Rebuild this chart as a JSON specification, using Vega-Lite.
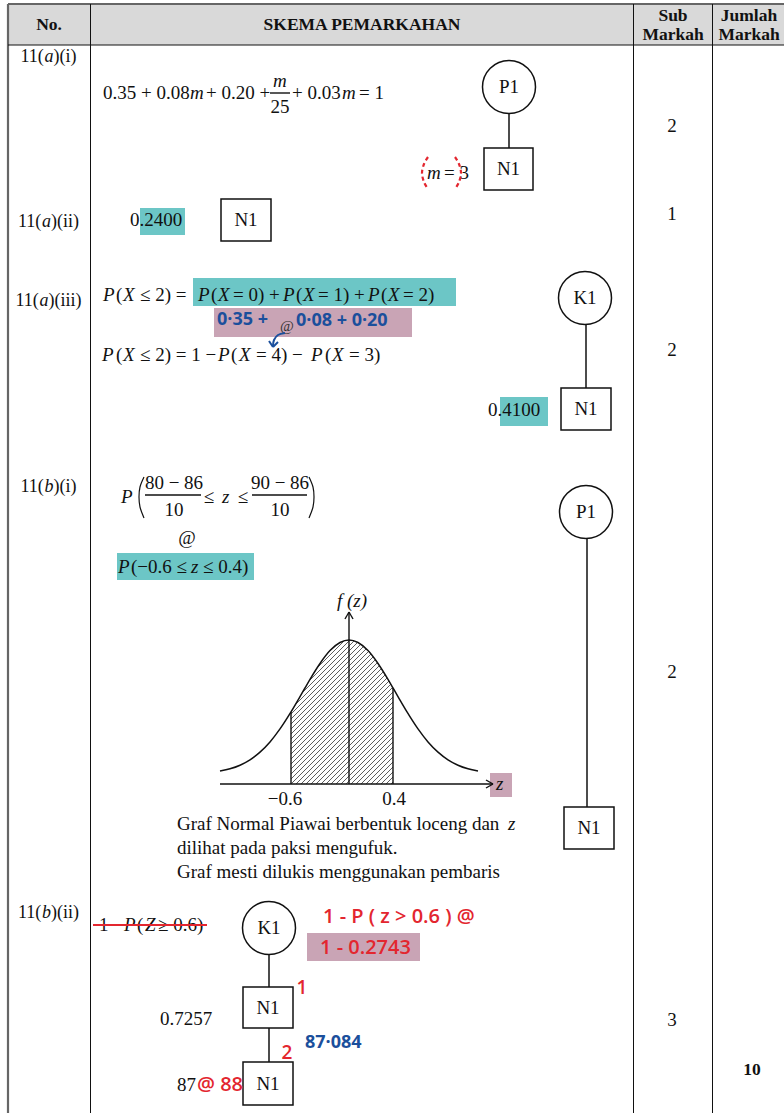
{
 "$schema": "https://vega.github.io/schema/vega-lite/v6.json",
 "width": 784, "height": 1113, "padding": 0, "autosize": {"type": "none"},
 "background": "white",
 "config": {"view": {"stroke": null}},
 "datasets": {
  "header": [{"x": 8, "y": 4, "x2": 784, "y2": 45}],
  "teal": [
   {"x": 140, "y": 208, "x2": 185, "y2": 235},
   {"x": 193, "y": 278, "x2": 456, "y2": 306},
   {"x": 500, "y": 397, "x2": 548, "y2": 426},
   {"x": 117, "y": 553, "x2": 254, "y2": 580}
  ],
  "mauve": [
   {"x": 214, "y": 308, "x2": 412, "y2": 337},
   {"x": 490, "y": 773, "x2": 512, "y2": 797},
   {"x": 307, "y": 933, "x2": 420, "y2": 961}
  ],
  "hatch": [
   {"x": 291, "y": 644, "x2": 297, "y2": 638},
   {"x": 291, "y": 649, "x2": 302, "y2": 638},
   {"x": 291, "y": 654, "x2": 307, "y2": 638},
   {"x": 291, "y": 659, "x2": 312, "y2": 638},
   {"x": 291, "y": 664, "x2": 317, "y2": 638},
   {"x": 291, "y": 669, "x2": 322, "y2": 638},
   {"x": 291, "y": 674, "x2": 327, "y2": 638},
   {"x": 291, "y": 679, "x2": 332, "y2": 638},
   {"x": 291, "y": 684, "x2": 337, "y2": 638},
   {"x": 291, "y": 689, "x2": 342, "y2": 638},
   {"x": 291, "y": 694, "x2": 347, "y2": 638},
   {"x": 291, "y": 699, "x2": 352, "y2": 638},
   {"x": 291, "y": 704, "x2": 357, "y2": 638},
   {"x": 291, "y": 709, "x2": 362, "y2": 638},
   {"x": 291, "y": 714, "x2": 367, "y2": 638},
   {"x": 291, "y": 719, "x2": 372, "y2": 638},
   {"x": 291, "y": 724, "x2": 377, "y2": 638},
   {"x": 291, "y": 729, "x2": 382, "y2": 638},
   {"x": 291, "y": 734, "x2": 387, "y2": 638},
   {"x": 291, "y": 739, "x2": 392, "y2": 638},
   {"x": 291, "y": 744, "x2": 393, "y2": 642},
   {"x": 291, "y": 749, "x2": 393, "y2": 647},
   {"x": 291, "y": 754, "x2": 393, "y2": 652},
   {"x": 291, "y": 759, "x2": 393, "y2": 657},
   {"x": 291, "y": 764, "x2": 393, "y2": 662},
   {"x": 291, "y": 769, "x2": 393, "y2": 667},
   {"x": 291, "y": 774, "x2": 393, "y2": 672},
   {"x": 291, "y": 779, "x2": 393, "y2": 677},
   {"x": 291, "y": 784, "x2": 393, "y2": 682},
   {"x": 296, "y": 784, "x2": 393, "y2": 687},
   {"x": 301, "y": 784, "x2": 393, "y2": 692},
   {"x": 306, "y": 784, "x2": 393, "y2": 697},
   {"x": 311, "y": 784, "x2": 393, "y2": 702},
   {"x": 316, "y": 784, "x2": 393, "y2": 707},
   {"x": 321, "y": 784, "x2": 393, "y2": 712},
   {"x": 326, "y": 784, "x2": 393, "y2": 717},
   {"x": 331, "y": 784, "x2": 393, "y2": 722},
   {"x": 336, "y": 784, "x2": 393, "y2": 727},
   {"x": 341, "y": 784, "x2": 393, "y2": 732},
   {"x": 346, "y": 784, "x2": 393, "y2": 737},
   {"x": 351, "y": 784, "x2": 393, "y2": 742},
   {"x": 356, "y": 784, "x2": 393, "y2": 747},
   {"x": 361, "y": 784, "x2": 393, "y2": 752},
   {"x": 366, "y": 784, "x2": 393, "y2": 757},
   {"x": 371, "y": 784, "x2": 393, "y2": 762},
   {"x": 376, "y": 784, "x2": 393, "y2": 767},
   {"x": 381, "y": 784, "x2": 393, "y2": 772},
   {"x": 386, "y": 784, "x2": 393, "y2": 777},
   {"x": 391, "y": 784, "x2": 393, "y2": 782}
  ],
  "curve": [
   {"x": 220, "y": 771.0}, {"x": 230, "y": 768.8}, {"x": 240, "y": 765.2}, {"x": 250, "y": 759.8},
   {"x": 260, "y": 752.1}, {"x": 270, "y": 741.9}, {"x": 280, "y": 728.9}, {"x": 291, "y": 711.9},
   {"x": 300, "y": 696.6}, {"x": 305, "y": 688.0}, {"x": 310, "y": 679.4}, {"x": 320, "y": 663.5},
   {"x": 330, "y": 650.6}, {"x": 340, "y": 642.5}, {"x": 349, "y": 640.0}, {"x": 358, "y": 642.5},
   {"x": 368, "y": 650.6}, {"x": 378, "y": 663.5}, {"x": 388, "y": 679.4}, {"x": 393, "y": 688.0},
   {"x": 398, "y": 696.6}, {"x": 407, "y": 711.9}, {"x": 418, "y": 728.9}, {"x": 428, "y": 741.9},
   {"x": 438, "y": 752.1}, {"x": 448, "y": 759.8}, {"x": 458, "y": 765.2}, {"x": 468, "y": 768.8},
   {"x": 478, "y": 771.0}
  ],
  "glines": [
   {"x": 220, "y": 784, "x2": 493, "y2": 784},
   {"x": 486, "y": 780, "x2": 493, "y2": 784},
   {"x": 486, "y": 788, "x2": 493, "y2": 784},
   {"x": 349, "y": 784, "x2": 349, "y2": 612},
   {"x": 345, "y": 619, "x2": 349, "y2": 612},
   {"x": 353, "y": 619, "x2": 349, "y2": 612},
   {"x": 291, "y": 784, "x2": 291, "y2": 711.9},
   {"x": 393, "y": 784, "x2": 393, "y2": 688},
   {"x": 270, "y": 93, "x2": 290, "y2": 93},
   {"x": 145, "y": 495, "x2": 201, "y2": 495},
   {"x": 252, "y": 495, "x2": 307, "y2": 495}
  ],
  "bigparen": [
   {"g": "L", "o": 1, "x": 144, "y": 477}, {"g": "L", "o": 2, "x": 140, "y": 487},
   {"g": "L", "o": 3, "x": 139, "y": 497}, {"g": "L", "o": 4, "x": 140, "y": 507},
   {"g": "L", "o": 5, "x": 144, "y": 518},
   {"g": "R", "o": 1, "x": 309, "y": 477}, {"g": "R", "o": 2, "x": 313, "y": 487},
   {"g": "R", "o": 3, "x": 314, "y": 497}, {"g": "R", "o": 4, "x": 313, "y": 507},
   {"g": "R", "o": 5, "x": 309, "y": 518}
  ],
  "grid_thick": [
   {"x": 8, "y": 4, "x2": 784, "y2": 4},
   {"x": 8, "y": 4, "x2": 8, "y2": 1113}
  ],
  "grid": [
   {"x": 8, "y": 45, "x2": 784, "y2": 45},
   {"x": 90.5, "y": 4, "x2": 90.5, "y2": 1113},
   {"x": 633.5, "y": 4, "x2": 633.5, "y2": 1113},
   {"x": 712.5, "y": 4, "x2": 712.5, "y2": 1113}
  ],
  "conn": [
   {"x": 509, "y": 113, "x2": 509, "y2": 148},
   {"x": 586, "y": 324, "x2": 586, "y2": 388},
   {"x": 587, "y": 538, "x2": 587, "y2": 807},
   {"x": 269, "y": 954, "x2": 269, "y2": 987},
   {"x": 269, "y": 1028, "x2": 269, "y2": 1062}
  ],
  "boxes": [
   {"x": 484, "y": 148, "x2": 533, "y2": 190},
   {"x": 221, "y": 199, "x2": 271, "y2": 241},
   {"x": 561, "y": 388, "x2": 611, "y2": 430},
   {"x": 564, "y": 807, "x2": 614, "y2": 849},
   {"x": 243, "y": 987, "x2": 293, "y2": 1028},
   {"x": 243, "y": 1062, "x2": 293, "y2": 1105}
  ],
  "circles": [
   {"x": 509, "y": 87}, {"x": 585, "y": 298}, {"x": 586, "y": 512}, {"x": 269, "y": 928}
  ],
  "th": [
   {"x": 49, "y": 25, "t": "No."},
   {"x": 362, "y": 25, "t": "SKEMA PEMARKAHAN"},
   {"x": 673, "y": 16, "t": "Sub"},
   {"x": 673, "y": 35, "t": "Markah"},
   {"x": 749, "y": 16, "t": "Jumlah"},
   {"x": 749, "y": 35, "t": "Markah"},
   {"x": 752, "y": 1070, "t": "10"}
  ],
  "lab_n": [
   {"x": 20.5, "y": 57, "t": "11("}, {"x": 53.5, "y": 57, "t": ")(i)"},
   {"x": 18, "y": 222, "t": "11("}, {"x": 51, "y": 222, "t": ")(ii)"},
   {"x": 15.5, "y": 301, "t": "11("}, {"x": 48.5, "y": 301, "t": ")(iii)"},
   {"x": 20.5, "y": 487, "t": "11("}, {"x": 53.5, "y": 487, "t": ")(i)"},
   {"x": 18, "y": 913, "t": "11("}, {"x": 51, "y": 913, "t": ")(ii)"}
  ],
  "lab_i": [
   {"x": 44.5, "y": 57, "t": "a"},
   {"x": 42, "y": 222, "t": "a"},
   {"x": 39.5, "y": 301, "t": "a"},
   {"x": 44.5, "y": 487, "t": "b"},
   {"x": 42, "y": 913, "t": "b"}
  ],
  "tc": [
   {"x": 509, "y": 87, "t": "P1"},
   {"x": 508.5, "y": 169, "t": "N1"},
   {"x": 672, "y": 126, "t": "2"},
   {"x": 246, "y": 220, "t": "N1"},
   {"x": 672, "y": 214, "t": "1"},
   {"x": 585, "y": 298, "t": "K1"},
   {"x": 586, "y": 409, "t": "N1"},
   {"x": 672, "y": 350, "t": "2"},
   {"x": 586, "y": 512, "t": "P1"},
   {"x": 589, "y": 828, "t": "N1"},
   {"x": 672, "y": 672, "t": "2"},
   {"x": 269, "y": 928, "t": "K1"},
   {"x": 268, "y": 1008, "t": "N1"},
   {"x": 268, "y": 1084, "t": "N1"},
   {"x": 672, "y": 1020, "t": "3"},
   {"x": 280, "y": 107, "t": "25"},
   {"x": 174, "y": 483, "t": "80 − 86"},
   {"x": 174, "y": 510, "t": "10"},
   {"x": 280, "y": 483, "t": "90 − 86"},
   {"x": 280, "y": 510, "t": "10"},
   {"x": 209, "y": 497, "t": "≤"},
   {"x": 243, "y": 497, "t": "≤"},
   {"x": 187, "y": 538, "t": "@"},
   {"x": 285, "y": 799, "t": "−0.6"},
   {"x": 394, "y": 799, "t": "0.4"}
  ],
  "tsmall": [
   {"x": 287, "y": 326, "t": "@"}
  ],
  "tn": [
   {"x": 103, "y": 93, "t": "0.35 + 0.08"},
   {"x": 206, "y": 93, "t": "+ 0.20 +"},
   {"x": 292, "y": 93, "t": "+ 0.03"},
   {"x": 359, "y": 93, "t": "= 1"},
   {"x": 444, "y": 173, "t": "= 3"},
   {"x": 130, "y": 220, "t": "0.2400"},
   {"x": 116, "y": 295, "t": "("},
   {"x": 140, "y": 295, "t": "≤ 2) ="},
   {"x": 211, "y": 295, "t": "("},
   {"x": 233, "y": 295, "t": "= 0) +"},
   {"x": 296, "y": 295, "t": "("},
   {"x": 318, "y": 295, "t": "= 1) +"},
   {"x": 381, "y": 295, "t": "("},
   {"x": 403, "y": 295, "t": "= 2)"},
   {"x": 116, "y": 355, "t": "("},
   {"x": 140, "y": 355, "t": "≤ 2) = 1 −"},
   {"x": 231, "y": 355, "t": "("},
   {"x": 256, "y": 355, "t": "= 4) −"},
   {"x": 325, "y": 355, "t": "("},
   {"x": 349, "y": 355, "t": "= 3)"},
   {"x": 488, "y": 410, "t": "0.4100"},
   {"x": 131, "y": 567, "t": "(−0.6 ≤"},
   {"x": 203, "y": 567, "t": "≤ 0.4)"},
   {"x": 177, "y": 824, "t": "Graf Normal Piawai berbentuk loceng dan"},
   {"x": 177, "y": 848, "t": "dilihat pada paksi mengufuk."},
   {"x": 177, "y": 872, "t": "Graf mesti dilukis menggunakan pembaris"},
   {"x": 99, "y": 925, "t": "1 −"},
   {"x": 137, "y": 925, "t": "("},
   {"x": 158, "y": 925, "t": "≥ 0.6)"},
   {"x": 160, "y": 1019, "t": "0.7257"},
   {"x": 177, "y": 1085, "t": "87"}
  ],
  "ti": [
   {"x": 190, "y": 93, "t": "m"},
   {"x": 273, "y": 81, "t": "m"},
   {"x": 342, "y": 93, "t": "m"},
   {"x": 427, "y": 173, "t": "m"},
   {"x": 103, "y": 295, "t": "P"}, {"x": 123, "y": 295, "t": "X"},
   {"x": 198, "y": 295, "t": "P"}, {"x": 218, "y": 295, "t": "X"},
   {"x": 283, "y": 295, "t": "P"}, {"x": 303, "y": 295, "t": "X"},
   {"x": 368, "y": 295, "t": "P"}, {"x": 388, "y": 295, "t": "X"},
   {"x": 102, "y": 355, "t": "P"}, {"x": 123, "y": 355, "t": "X"},
   {"x": 218, "y": 355, "t": "P"}, {"x": 239, "y": 355, "t": "X"},
   {"x": 311, "y": 355, "t": "P"}, {"x": 332, "y": 355, "t": "X"},
   {"x": 121, "y": 497, "t": "P"},
   {"x": 222, "y": 497, "t": "z"},
   {"x": 118, "y": 567, "t": "P"},
   {"x": 191, "y": 567, "t": "z"},
   {"x": 337, "y": 601, "t": "f (z)"},
   {"x": 496, "y": 784, "t": "z"},
   {"x": 508, "y": 824, "t": "z"},
   {"x": 124, "y": 925, "t": "P"},
   {"x": 145, "y": 925, "t": "Z"}
  ],
  "red": [
   {"x": 323, "y": 917, "t": "1 - P ( z > 0.6 )  @"},
   {"x": 320, "y": 948, "t": "1 - 0.2743"},
   {"x": 197, "y": 1085, "t": "@ 88"}
  ],
  "redc": [
   {"x": 302, "y": 988, "t": "1"},
   {"x": 287, "y": 1053, "t": "2"}
  ],
  "blue": [
   {"x": 217, "y": 320, "t": "0·35 +"},
   {"x": 296, "y": 321, "t": "0·08  + 0·20"},
   {"x": 305, "y": 1043, "t": "87·084"}
  ],
  "strike": [{"x": 93, "y": 925, "x2": 207, "y2": 925}],
  "paren": [
   {"g": "L", "o": 1, "x": 428, "y": 157}, {"g": "L", "o": 2, "x": 424, "y": 164},
   {"g": "L", "o": 3, "x": 422, "y": 173}, {"g": "L", "o": 4, "x": 424, "y": 182},
   {"g": "L", "o": 5, "x": 428, "y": 189},
   {"g": "R", "o": 1, "x": 455, "y": 157}, {"g": "R", "o": 2, "x": 459, "y": 164},
   {"g": "R", "o": 3, "x": 461, "y": 173}, {"g": "R", "o": 4, "x": 459, "y": 182},
   {"g": "R", "o": 5, "x": 455, "y": 189}
  ],
  "barrow": [
   {"o": 1, "x": 285, "y": 333}, {"o": 2, "x": 278, "y": 335},
   {"o": 3, "x": 274, "y": 340}, {"o": 4, "x": 273, "y": 346}
  ],
  "barrowhead": [
   {"x": 269, "y": 341, "x2": 273, "y2": 347},
   {"x": 278, "y": 342, "x2": 273, "y2": 347}
  ]
 },
 "encoding": {
  "x": {"field": "x", "type": "quantitative", "scale": {"domain": [0, 784], "nice": false, "zero": false}, "axis": null},
  "y": {"field": "y", "type": "quantitative", "scale": {"domain": [0, 1113], "nice": false, "zero": false, "reverse": true}, "axis": null}
 },
 "layer": [
  {"data": {"name": "header"}, "mark": {"type": "rect", "color": "#d9d9d9"}, "encoding": {"x2": {"field": "x2"}, "y2": {"field": "y2"}}},
  {"data": {"name": "teal"}, "mark": {"type": "rect", "color": "#6cc6c6"}, "encoding": {"x2": {"field": "x2"}, "y2": {"field": "y2"}}},
  {"data": {"name": "mauve"}, "mark": {"type": "rect", "color": "#c9a4b5"}, "encoding": {"x2": {"field": "x2"}, "y2": {"field": "y2"}}},
  {"data": {"name": "hatch"}, "mark": {"type": "rule", "color": "#333", "strokeWidth": 0.8}, "encoding": {"x2": {"field": "x2"}, "y2": {"field": "y2"}}},
  {"data": {"name": "curve"}, "transform": [{"filter": "datum.x >= 291 && datum.x <= 393"}], "mark": {"type": "area", "color": "white", "interpolate": "monotone"}, "encoding": {"y2": {"datum": 636}}},
  {"data": {"name": "curve"}, "mark": {"type": "line", "color": "#111", "strokeWidth": 1.5, "interpolate": "monotone"}, "encoding": {}},
  {"data": {"name": "glines"}, "mark": {"type": "rule", "color": "#111", "strokeWidth": 1.4}, "encoding": {"x2": {"field": "x2"}, "y2": {"field": "y2"}}},
  {"data": {"name": "bigparen"}, "mark": {"type": "line", "color": "#111", "strokeWidth": 1.2, "interpolate": "cardinal"}, "encoding": {"detail": {"field": "g"}, "order": {"field": "o"}}},
  {"data": {"name": "grid_thick"}, "mark": {"type": "rule", "color": "#666", "strokeWidth": 2.2}, "encoding": {"x2": {"field": "x2"}, "y2": {"field": "y2"}}},
  {"data": {"name": "grid"}, "mark": {"type": "rule", "color": "#111", "strokeWidth": 1}, "encoding": {"x2": {"field": "x2"}, "y2": {"field": "y2"}}},
  {"data": {"name": "conn"}, "mark": {"type": "rule", "color": "#111", "strokeWidth": 1.5}, "encoding": {"x2": {"field": "x2"}, "y2": {"field": "y2"}}},
  {"data": {"name": "boxes"}, "mark": {"type": "rect", "fill": "white", "stroke": "#111", "strokeWidth": 1.5}, "encoding": {"x2": {"field": "x2"}, "y2": {"field": "y2"}}},
  {"data": {"name": "circles"}, "mark": {"type": "point", "shape": "circle", "filled": false, "size": 2809, "color": "#111", "strokeWidth": 1.5, "opacity": 1}, "encoding": {}},
  {"data": {"name": "th"}, "mark": {"type": "text", "font": "Liberation Serif", "fontSize": 17.5, "fontWeight": "bold", "align": "center", "baseline": "middle", "color": "#111"}, "encoding": {"text": {"field": "t"}}},
  {"data": {"name": "lab_n"}, "mark": {"type": "text", "font": "Liberation Serif", "fontSize": 18, "align": "left", "baseline": "middle", "color": "#111"}, "encoding": {"text": {"field": "t"}}},
  {"data": {"name": "lab_i"}, "mark": {"type": "text", "font": "Liberation Serif", "fontSize": 18, "fontStyle": "italic", "align": "left", "baseline": "middle", "color": "#111"}, "encoding": {"text": {"field": "t"}}},
  {"data": {"name": "tc"}, "mark": {"type": "text", "font": "Liberation Serif", "fontSize": 19, "align": "center", "baseline": "middle", "color": "#111"}, "encoding": {"text": {"field": "t"}}},
  {"data": {"name": "tsmall"}, "mark": {"type": "text", "font": "Liberation Serif", "fontSize": 15, "align": "center", "baseline": "middle", "color": "#333"}, "encoding": {"text": {"field": "t"}}},
  {"data": {"name": "tn"}, "mark": {"type": "text", "font": "Liberation Serif", "fontSize": 19, "align": "left", "baseline": "middle", "color": "#111"}, "encoding": {"text": {"field": "t"}}},
  {"data": {"name": "ti"}, "mark": {"type": "text", "font": "Liberation Serif", "fontSize": 19, "fontStyle": "italic", "align": "left", "baseline": "middle", "color": "#111"}, "encoding": {"text": {"field": "t"}}},
  {"data": {"name": "strike"}, "mark": {"type": "rule", "color": "#e3262f", "strokeWidth": 2}, "encoding": {"x2": {"field": "x2"}, "y2": {"field": "y2"}}},
  {"data": {"name": "paren"}, "mark": {"type": "line", "color": "#e3262f", "strokeWidth": 2.2, "strokeDash": [4, 3], "interpolate": "cardinal"}, "encoding": {"detail": {"field": "g"}, "order": {"field": "o"}}},
  {"data": {"name": "barrow"}, "mark": {"type": "line", "color": "#1b4f9c", "strokeWidth": 2, "interpolate": "cardinal"}, "encoding": {"order": {"field": "o"}}},
  {"data": {"name": "barrowhead"}, "mark": {"type": "rule", "color": "#1b4f9c", "strokeWidth": 2}, "encoding": {"x2": {"field": "x2"}, "y2": {"field": "y2"}}},
  {"data": {"name": "red"}, "mark": {"type": "text", "font": "Open Sans", "fontSize": 20, "fontWeight": 600, "align": "left", "baseline": "middle", "color": "#e3262f"}, "encoding": {"text": {"field": "t"}}},
  {"data": {"name": "redc"}, "mark": {"type": "text", "font": "Open Sans", "fontSize": 19, "fontWeight": 600, "align": "center", "baseline": "middle", "color": "#e3262f"}, "encoding": {"text": {"field": "t"}}},
  {"data": {"name": "blue"}, "mark": {"type": "text", "font": "Open Sans", "fontSize": 18, "fontWeight": 700, "align": "left", "baseline": "middle", "color": "#1b4f9c"}, "encoding": {"text": {"field": "t"}}}
 ]
}
